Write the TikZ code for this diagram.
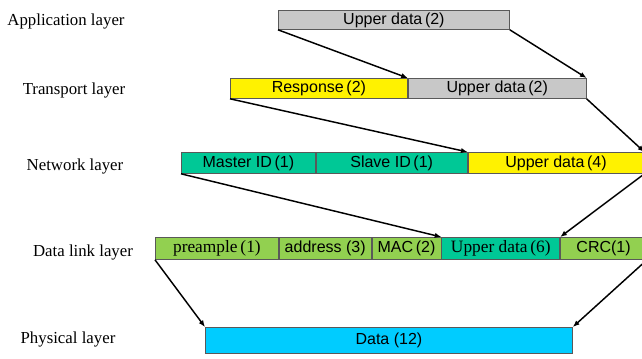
\documentclass[tikz,border=0pt]{standalone}
\usepackage{fontspec}
\setmainfont{Liberation Serif}
\setsansfont{Liberation Sans}
\usetikzlibrary{arrows.meta}
\definecolor{boxgray}{RGB}{200,200,200}
\definecolor{boxteal}{RGB}{0,200,150}
\definecolor{boxgreen}{RGB}{146,208,80}
\definecolor{boxcyan}{RGB}{0,204,255}
\def\pxu{0.75pt}
\tikzset{
  seg/.style={draw=black!65, line width=0.6pt, anchor=north west, inner sep=0pt,
    font=\sffamily\fontsize{12}{13}\selectfont},
  serseg/.style={seg, font=\rmfamily\fontsize{13}{14}\selectfont},
  layer/.style={font=\fontsize{12.6}{14}\selectfont, inner sep=0pt},
  flow/.style={line width=1.1pt, -{Latex[length=5pt,width=4pt]}}
}
\begin{document}
\begin{tikzpicture}[x=0.75pt,y=-0.75pt]
  \useasboundingbox (0,0) rectangle (642,358);

  %%%%% layer names %%%%%
  \node[layer] (lapp) at (66,21) {Application layer};
  \node[layer] (ltra) at (74,90) {Transport layer};
  \node[layer] (lnet) at (75,166) {Network layer};
  \node[layer] (llink) at (83,252) {Data link layer};
  \node[layer] (lphy) at (68,339) {Physical layer};

  %%%%% application %%%%%
  \node[seg, fill=boxgray, minimum width=231*\pxu, minimum height=19*\pxu] (app) at (278,10) {Upper data\,(2)};

  %%%%% transport %%%%%
  \node[seg, fill=yellow, minimum width=177*\pxu, minimum height=20*\pxu] (tresp) at (230,78) {Response\,(2)};
  \node[seg, fill=boxgray, minimum width=178*\pxu, minimum height=20*\pxu] (tdata) at (tresp.north east) {Upper data\,(2)};

  %%%%% network %%%%%
  \node[seg, fill=boxteal, minimum width=134*\pxu, minimum height=21*\pxu] (nmaster) at (181,152) {Master ID\,(1)};
  \node[seg, fill=boxteal, minimum width=151*\pxu, minimum height=21*\pxu] (nslave) at (nmaster.north east) {Slave ID\,(1)};
  \node[seg, fill=yellow, minimum width=176*\pxu, minimum height=21*\pxu] (ndata) at (nslave.north east) {Upper data\,(4)};

  %%%%% data link %%%%%
  \node[serseg, fill=boxgreen, minimum width=123*\pxu, minimum height=22*\pxu] (dpre) at (155,237) {preample\,(1)};
  \node[seg, fill=boxgreen, minimum width=92*\pxu, minimum height=22*\pxu] (daddr) at (dpre.north east) {address (3)};
  \node[seg, fill=boxgreen, minimum width=69*\pxu, minimum height=22*\pxu] (dmac) at (daddr.north east) {MAC\,(2)};
  \node[serseg, fill=boxteal, minimum width=118*\pxu, minimum height=22*\pxu] (ddata) at (dmac.north east) {Upper data\,(6)};
  \node[seg, fill=boxgreen, minimum width=86*\pxu, minimum height=22*\pxu] (dcrc) at (ddata.north east) {CRC(1)};

  %%%%% physical %%%%%
  \node[seg, fill=boxcyan, minimum width=367*\pxu, minimum height=26*\pxu] (phy) at (205,327) {Data (12)};

  %%%%% arrows %%%%%
  \draw[flow] (app.south west) -- (tresp.north east);
  \draw[flow] (app.south east) -- (tdata.north east);
  \draw[flow] (tresp.south west) -- (ndata.north west);
  \draw[flow] (tdata.south east) -- (ndata.north east);
  \draw[flow] (nmaster.south west) -- (ddata.north west);
  \draw[flow] (ndata.south east) -- (ddata.north east);
  \draw[flow] (dpre.south west) -- (phy.north west);
  \draw[flow] (dcrc.south east) -- (phy.north east);
\end{tikzpicture}
\end{document}
